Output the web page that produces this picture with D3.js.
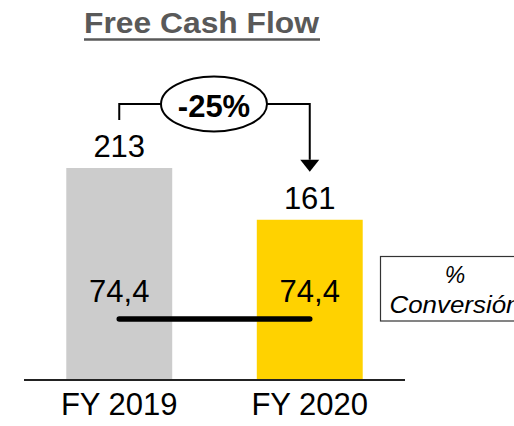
<!DOCTYPE html>
<html>
<head>
<meta charset="utf-8">
<script src="https://cdn.jsdelivr.net/npm/d3@7"></script>
<style>
  body { margin: 0; background: #fff; }
  svg { display: block; font-family: "Liberation Sans", Arial, sans-serif; }
</style>
</head>
<body>
<svg></svg>
<script>
/* chart data */
var categories = ['FY 2019', 'FY 2020'];
var cashFlow = [213, 161];
var cashLabels = ['213', '161'];
var conversion = [74.4, 74.4];
var conversionLabels = ['74,4', '74,4'];
var changeLabel = '-25%';
var titleText = 'Free Cash Flow';
var legendLines = ['%', 'Conversión'];
var barColors = ['#cccccc', '#ffd200'];

/* svg setting */
var svgWidth = 514;
var svgHeight = 426;
var scale = {};

var svg = d3.select('svg')
    .attr('width', svgWidth)
    .attr('height', svgHeight);

setScale();
drawTitle();
drawBars();
drawAxis();
drawConversion();
drawChangeArrow();
drawLegend();

function setScale(){
  scale.x = d3.scaleBand()
      .domain(categories)
      .range([24, 405])
      .paddingInner(0.444)
      .paddingOuter(0.222);

  scale.y = d3.scaleLinear()
      .domain([0, 213])
      .range([380, 168]);

  // conversion % plotted on its own scale
  scale.conv = d3.scaleLinear()
      .domain([0, 100])
      .range([380, 298]);
}

function cx(d){ return scale.x(d) + scale.x.bandwidth() / 2; }

function drawTitle(){
  svg.append('text')
      .attr('x', 84)
      .attr('y', 33)
      .attr('textLength', 235)
      .attr('lengthAdjust', 'spacingAndGlyphs')
      .style('font-size', '29px')
      .style('font-weight', 'bold')
      .attr('fill', '#595959')
      .text(titleText);

  svg.append('line')
      .attr('x1', 84).attr('x2', 320)
      .attr('y1', 39.5).attr('y2', 39.5)
      .attr('stroke', '#595959')
      .attr('stroke-width', 2.5);
}

function drawBars(){
  var g = svg.append('g');
  g.selectAll('rect')
      .data(cashFlow)
      .enter()
      .append('rect')
      .attr('x', function(d, i){ return scale.x(categories[i]); })
      .attr('y', function(d){ return scale.y(d); })
      .attr('width', scale.x.bandwidth())
      .attr('height', function(d){ return scale.y(0) - scale.y(d); })
      .attr('fill', function(d, i){ return barColors[i]; });

  g.selectAll('text')
      .data(cashFlow)
      .enter()
      .append('text')
      .attr('x', function(d, i){ return cx(categories[i]); })
      .attr('y', function(d){ return scale.y(d) - 11; })
      .attr('text-anchor', 'middle')
      .style('font-size', '31px')
      .text(function(d, i){ return cashLabels[i]; });
}

function drawAxis(){
  var axis = svg.append('g')
      .attr('transform', translate(0, 380))
      .call(d3.axisBottom(scale.x).tickSize(0).tickPadding(13));
  axis.select('.domain')
      .attr('d', 'M24,0H405')
      .attr('stroke', '#222')
      .attr('stroke-width', 2);
  axis.selectAll('text')
      .attr('fill', '#000')
      .style('font-size', '31px')
      .style('font-family', '"Liberation Sans", Arial, sans-serif');
}

function drawConversion(){
  var line = d3.line()
      .x(function(d, i){ return cx(categories[i]); })
      .y(function(d){ return scale.conv(d); });

  svg.append('path')
      .datum(conversion)
      .attr('d', line)
      .attr('fill', 'none')
      .attr('stroke', '#000')
      .attr('stroke-width', 5.5)
      .attr('stroke-linecap', 'round');

  svg.selectAll('.conv-label')
      .data(conversion)
      .enter()
      .append('text')
      .attr('class', 'conv-label')
      .attr('x', function(d, i){ return cx(categories[i]); })
      .attr('y', function(d){ return scale.conv(d) - 17; })
      .attr('text-anchor', 'middle')
      .style('font-size', '31px')
      .text(function(d, i){ return conversionLabels[i]; });
}

function drawChangeArrow(){
  var x0 = cx(categories[0]);
  var x1 = cx(categories[1]);
  var yTop = 104;
  var ex = 214, rx = 53, ry = 27.5;
  var g = svg.append('g')
      .attr('fill', 'none')
      .attr('stroke', '#000')
      .attr('stroke-width', 2);

  g.append('path')
      .attr('d', 'M' + x0 + ',' + (scale.y(cashFlow[0]) - 48) + 'V' + yTop + 'H' + (ex - rx));
  g.append('path')
      .attr('d', 'M' + (ex + rx) + ',' + yTop + 'H' + x1 + 'V' + (scale.y(cashFlow[1]) - 60));

  svg.append('path')
      .attr('d', 'M' + (x1 - 9.5) + ',' + (scale.y(cashFlow[1]) - 60) +
                 'L' + (x1 + 9.5) + ',' + (scale.y(cashFlow[1]) - 60) +
                 'L' + x1 + ',' + (scale.y(cashFlow[1]) - 48) + 'Z')
      .attr('fill', '#000');

  g.append('ellipse')
      .attr('cx', ex).attr('cy', yTop)
      .attr('rx', rx).attr('ry', ry)
      .attr('fill', '#fff');

  svg.append('text')
      .attr('x', ex)
      .attr('y', yTop + 13)
      .attr('text-anchor', 'middle')
      .style('font-size', '31px')
      .style('font-weight', 'bold')
      .text(changeLabel);
}

function drawLegend(){
  svg.append('rect')
      .attr('x', 380.5).attr('y', 256.5)
      .attr('width', 150).attr('height', 64.5)
      .attr('fill', '#fff')
      .attr('stroke', '#333')
      .attr('stroke-width', 1.2);

  svg.append('text')
      .attr('x', 455).attr('y', 283)
      .attr('text-anchor', 'middle')
      .style('font-size', '23px')
      .style('font-style', 'italic')
      .text(legendLines[0]);

  svg.append('text')
      .attr('x', 389.5).attr('y', 312.5)
      .attr('textLength', 131)
      .attr('lengthAdjust', 'spacingAndGlyphs')
      .style('font-size', '23px')
      .style('font-style', 'italic')
      .text(legendLines[1]);
}

function translate(x, y) {
  return 'translate(' + x + ',' + y + ')';
}
</script>
</body>
</html>
